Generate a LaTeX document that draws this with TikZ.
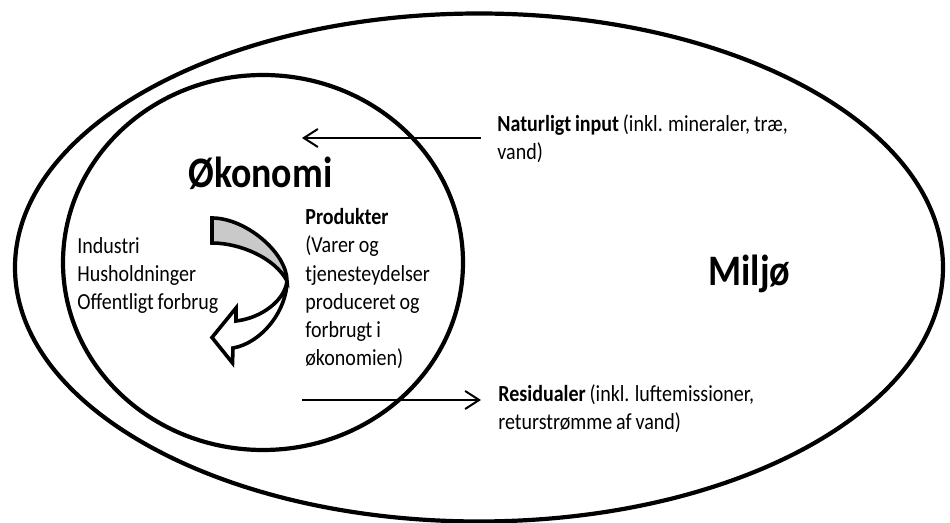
\documentclass[tikz,border=0pt]{standalone}
\usepackage{fontspec}
\setmainfont{Carlito}[FakeStretch=0.87,WordSpace=0.85]
\usetikzlibrary{arrows.meta}
\begin{document}
\begin{tikzpicture}[x=0.5pt,y=-0.5pt,
  ring/.style={line width=2.1pt},
  flow/.style={line width=1pt,-{Straight Barb[length=7pt,width=9pt,line width=1pt]}},
  small/.style={anchor=base west,inner sep=0pt,align=left,font=\fontsize{11.5pt}{14pt}\selectfont},
  big/.style={anchor=base west,inner sep=0pt,font=\fontsize{21.75pt}{26pt}\selectfont\bfseries},
  bentarrow/.style={line width=1.8pt,line join=miter}]
\useasboundingbox (0,0) rectangle (950,523);
% ellipses
\coordinate (miljoC) at (479,267.5);
\coordinate (okoC) at (263,262.5);
\draw[ring] (miljoC) ellipse [x radius=232pt, y radius=127pt];
\draw[ring] (okoC) ellipse [x radius=100pt, y radius=93.75pt];
% titles
\node[big] (okonomi) at (188,188) {Økonomi};
\node[big] (miljo) at (708,286) {Miljø};
% left list (anchored at the baseline of its last line)
\node[small] (actors) at (77,310) {Industri\\Husholdninger\\Offentligt forbrug};
% products
\node[small,font=\fontsize{11.5pt}{14.15pt}\selectfont] (produkter) at (305,366)
  {\textbf{Produkter}\\(Varer og\\tjenesteydelser\\produceret og\\forbrugt i\\økonomien)};
% natural input and residuals
\node[small] (natur) at (497,160) {\textbf{Naturligt input} (inkl. mineraler, træ,\\vand)};
\node[small] (resid) at (498,430) {\textbf{Residualer} (inkl. luftemissioner,\\returstrømme af vand)};
% flow arrows
\coordinate (inStart) at (481,138);
\coordinate (inEnd) at (302,138);
\coordinate (outStart) at (302,400);
\coordinate (outEnd) at (481,400);
\draw[flow] (inStart) -- (inEnd);
\draw[flow] (outStart) -- (outEnd);
% curved arrow
\draw[bentarrow,fill=black!21] (212,218) .. controls (246,218) and (287,253) .. (287,281)
  .. controls (275,258) and (240,243) .. (212,243) -- cycle;
\draw[bentarrow,fill=white] (287,281) .. controls (287,310) and (262,343) .. (233,348)
  -- (232.5,363) -- (212,337.5) -- (236,308) -- (236,321)
  .. controls (262,318) and (285,300) .. (287,281) -- cycle;
\end{tikzpicture}
\end{document}
